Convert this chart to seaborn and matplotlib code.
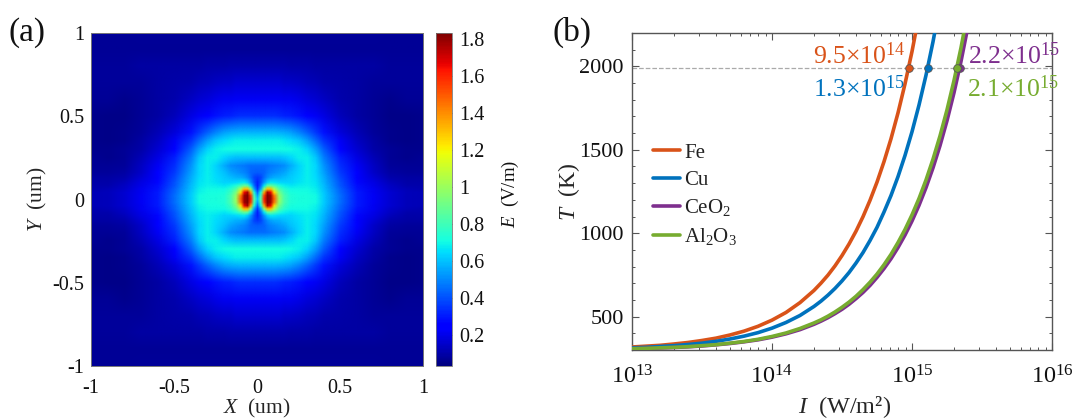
import numpy as np
import pandas as pd
import matplotlib
matplotlib.use('Agg')
import matplotlib.pyplot as plt
from matplotlib.image import NonUniformImage
from matplotlib.patches import Rectangle
from matplotlib.ticker import LogLocator, MultipleLocator, NullFormatter, FixedLocator
import seaborn as sns

# field values for one quadrant, mirrored later (rows follow pos_um in y)
# last position sits just past the axis edge so the image fills the frame
pos_um = [0, .02, .04, .06, .08, .1, .13, .16, .2, .25, .3, .35, .4, .5, .6, .7, .8, .9, 1.02]
e_row_00 = [.62, .85, 1.60, 1.83, 1.78, 1.50, 1.00, .82, .73, .72, .72, .70, .62, .45, .30, .22, .16, .13, .12]
e_row_02 = [.55, .80, 1.55, 1.83, 1.78, 1.45, .98, .82, .73, .72, .72, .70, .62, .45, .30, .22, .16, .13, .12]
e_row_04 = [.45, .70, 1.35, 1.76, 1.65, 1.25, .92, .79, .72, .71, .71, .69, .61, .44, .30, .21, .16, .13, .12]
e_row_06 = [.35, .55, .95, 1.30, 1.30, 1.05, .84, .75, .70, .70, .70, .68, .60, .43, .29, .21, .15, .12, .11]
e_row_08 = [.32, .45, .66, .85, .88, .82, .73, .69, .67, .68, .69, .67, .59, .41, .28, .20, .14, .11, .11]
e_row_10 = [.32, .40, .52, .62, .67, .66, .64, .63, .63, .66, .68, .66, .58, .40, .27, .19, .13, .10, .10]
e_row_13 = [.36, .38, .45, .51, .54, .56, .57, .59, .62, .65, .68, .65, .56, .38, .26, .17, .11, .09, .09]
e_row_16 = [.42, .43, .44, .47, .49, .51, .53, .55, .60, .64, .68, .64, .54, .36, .24, .15, .09, .08, .08]
e_row_20 = [.45, .45, .45, .46, .47, .48, .49, .51, .56, .63, .68, .64, .52, .34, .22, .14, .08, .07, .07]
e_row_25 = [.60, .60, .60, .60, .60, .60, .60, .61, .64, .68, .68, .61, .48, .31, .19, .12, .07, .06, .07]
e_row_30 = [.71, .71, .71, .71, .71, .71, .71, .71, .70, .68, .63, .54, .42, .26, .16, .10, .07, .06, .06]
e_row_35 = [.68, .68, .68, .68, .68, .68, .68, .67, .65, .61, .54, .45, .35, .22, .14, .09, .06, .05, .06]
e_row_40 = [.58, .58, .58, .58, .58, .58, .57, .56, .54, .49, .43, .36, .29, .18, .12, .08, .06, .05, .06]
e_row_50 = [.34, .34, .34, .34, .34, .34, .33, .32, .31, .29, .26, .22, .19, .13, .09, .07, .05, .05, .06]
e_row_60 = [.22, .22, .22, .22, .22, .22, .22, .21, .21, .20, .18, .16, .14, .11, .09, .07, .06, .07, .07]
e_row_70 = [.16, .16, .16, .16, .16, .16, .16, .15, .15, .14, .13, .12, .11, .10, .09, .08, .08, .08, .08]
e_row_80 = [.11, .11, .11, .11, .11, .11, .11, .11, .10, .10, .10, .09, .09, .09, .09, .09, .08, .08, .08]
e_row_90 = [.07, .07, .07, .07, .07, .07, .07, .07, .07, .07, .07, .07, .07, .07, .07, .07, .07, .07, .07]
e_row_100 = [.08, .08, .08, .08, .08, .08, .08, .08, .08, .08, .08, .08, .08, .08, .08, .08, .07, .07, .07]

# temperature curves, read along I
intensity = [1.0e13, 1.259e13, 1.585e13, 1.995e13, 2.512e13, 3.162e13, 3.981e13, 5.012e13, 6.31e13, 7.943e13,
             1.0e14, 1.259e14, 1.585e14, 1.995e14, 2.239e14, 2.512e14, 2.818e14, 3.162e14, 3.548e14, 3.981e14,
             4.467e14, 5.012e14, 5.623e14, 6.31e14, 7.079e14, 7.943e14, 8.913e14, 1.0e15, 1.122e15, 1.259e15,
             1.413e15, 1.585e15, 1.778e15, 1.995e15, 2.239e15, 2.512e15]
t_fe = [318, 323, 328, 336, 345, 357, 371, 390, 413, 442, 479, 525, 584, 657, 701, 749, 804, 866, 935, 1012,
        1099, 1197, 1306, 1429, 1566, 1721, 1895, 2089, 2307]
t_cu = [313, 316, 321, 326, 333, 341, 352, 366, 383, 404, 431, 465, 507, 561, 593, 629, 669, 714, 764, 821,
        884, 956, 1035, 1127, 1226, 1339, 1466, 1608, 1768, 1947, 2148, 2373]
t_ceo2 = [308, 310, 312, 315, 319, 324, 331, 339, 349, 361, 377, 397, 422, 454, 473, 494, 518, 544, 574, 608,
          645, 687, 735, 788, 847, 914, 989, 1073, 1167, 1273, 1392, 1525, 1674, 1842, 2030, 2241]
t_al2o3 = [308, 310, 313, 316, 320, 326, 332, 341, 351, 364, 381, 402, 429, 462, 481, 503, 528, 556, 587, 622,
           662, 706, 755, 811, 873, 944, 1022, 1110, 1208, 1319, 1444, 1583, 1739, 1915, 2112, 2333]

materials = ['Fe', 'Cu', 'CeO$_2$', 'Al$_2$O$_3$']
colors = ['#D95319', '#0072BD', '#7E2F8E', '#77AC30']
melt_i = [9.5e14, 1.3e15, 2.2e15, 2.1e15]
melt_t = 1990

W, H = 1076, 419

sns.set_theme(style='ticks')
plt.rcParams['font.family'] = ['Liberation Serif', 'DejaVu Serif']
plt.rcParams['mathtext.fontset'] = 'custom'
plt.rcParams['mathtext.rm'] = 'Liberation Serif'
plt.rcParams['mathtext.it'] = 'Liberation Serif:italic'
plt.rcParams['mathtext.default'] = 'regular'
plt.rcParams['text.color'] = '#111111'


def axes_px(fig, left, top, right, bottom):
    return fig.add_axes([left / W, 1 - bottom / H, (right - left) / W, (bottom - top) / H])


fig = plt.figure(figsize=(W / 100, H / 100), dpi=100)

# (a) field map
ax1 = axes_px(fig, 91, 33, 423, 366)
cax = axes_px(fig, 436, 33, 452, 366)

quad = np.array([e_row_00, e_row_02, e_row_04, e_row_06, e_row_08, e_row_10, e_row_13, e_row_16, e_row_20,
                 e_row_25, e_row_30, e_row_35, e_row_40, e_row_50, e_row_60, e_row_70, e_row_80, e_row_90,
                 e_row_100])
right_half = np.vstack([quad[:0:-1], quad])
field = np.hstack([right_half[:, :0:-1], right_half])
pos = np.array(pos_um)
grid = np.concatenate([-pos[:0:-1], pos])

im = NonUniformImage(ax1, interpolation='bilinear', cmap='jet', norm=plt.Normalize(0.033, 1.83),
                     extent=(-1, 1, -1, 1))
im.set_data(grid, grid, field)
ax1.add_image(im)
ax1.set_facecolor('#00009e')
ax1.set_xlim(-1, 1)
ax1.set_ylim(-1, 1)
# the image's top pixel row comes out bright, so clip it off
im.set_clip_path(Rectangle((-1, -1), 2, 1.99, transform=ax1.transData))
ax1.set_xticks([-1, -0.5, 0, 0.5, 1], ['-1', '-0.5', '0', '0.5', '1'])
ax1.set_yticks([-1, -0.5, 0, 0.5, 1], ['-1', '-0.5', '0', '0.5', '1'])
ax1.tick_params(length=0, labelsize=14.5, colors='#111111')
ax1.tick_params(axis='x', pad=9)
ax1.tick_params(axis='y', pad=5)
for s in ax1.spines.values():
    s.set_color('#777777')
    s.set_linewidth(0.7)
ax1.set_xlabel(r'$\mathit{X}$  (um)', fontsize=15.5)
ax1.set_ylabel(r'$\mathit{Y}$  (um)', fontsize=15.5)
ax1.xaxis.set_label_coords(0.5, -0.092)
ax1.yaxis.set_label_coords(-0.128, 0.5)

cbar = fig.colorbar(im, cax=cax, ticks=[0.2, 0.4, 0.6, 0.8, 1, 1.2, 1.4, 1.6, 1.8])
cbar.ax.set_yticklabels(['0.2', '0.4', '0.6', '0.8', '1', '1.2', '1.4', '1.6', '1.8'])
cbar.ax.tick_params(direction='in', length=2.5, width=0.6, color='#555555', labelsize=14.5, pad=5,
                    labelcolor='#111111')
cbar.outline.set_edgecolor('#777777')
cbar.outline.set_linewidth(0.6)
fig.text(510 / W, 1 - 194 / H, r'$\mathit{E}$  (V/m)', rotation=90, ha='center', va='center', fontsize=13.5)

# (b) temperature curves
ax2 = axes_px(fig, 632, 33, 1052, 350)
rows = []
for name, temps in zip(materials, [t_fe, t_cu, t_ceo2, t_al2o3]):
    rows.append(pd.DataFrame({'I': intensity[:len(temps)], 'T': temps, 'material': name}))
df = pd.concat(rows)

ax2.axhline(melt_t, color='#aaaaaa', lw=0.9, ls='--', zorder=1)
sns.lineplot(data=df, x='I', y='T', hue='material', hue_order=materials, palette=colors, lw=2.6, ax=ax2,
             estimator=None, sort=False, zorder=3)
ax2.set_xscale('log')
ax2.set_xlim(1e13, 1e16)
ax2.set_ylim(300, 2200)
for i_val, col in zip(melt_i, colors):
    ax2.plot([i_val], [melt_t], 'o', ms=5.5, mfc=col, mec='#555555', mew=0.6, zorder=4)

ax2.xaxis.set_major_locator(FixedLocator([1e13, 1e14, 1e15, 1e16]))
ax2.xaxis.set_minor_locator(LogLocator(base=10, subs=np.arange(2, 10), numticks=20))
ax2.xaxis.set_minor_formatter(NullFormatter())
ax2.yaxis.set_major_locator(FixedLocator([500, 1000, 1500, 2000]))
ax2.yaxis.set_minor_locator(MultipleLocator(100))
ax2.tick_params(which='major', direction='in', length=5, width=0.8, color='#555555', top=True, right=True,
                labelsize=16, labelcolor='#111111', pad=6)
ax2.tick_params(which='minor', direction='in', length=2.5, width=0.7, color='#555555', top=True, right=True)
ax2.set_xticklabels(['10$^{13}$', '10$^{14}$', '10$^{15}$', '10$^{16}$'])
ax2.tick_params(axis='x', which='major', pad=11, labelsize=17.5)
for s in ax2.spines.values():
    s.set_color('#555555')
    s.set_linewidth(1.0)
ax2.set_xlabel(r'$\mathit{I}$  (W/m²)', fontsize=17.5)
ax2.set_ylabel(r'$\mathit{T}$  (K)', fontsize=17)
ax2.xaxis.set_label_coords(0.507, -0.14)
ax2.yaxis.set_label_coords(-0.118, 0.5)

handles, labels = ax2.get_legend_handles_labels()
ax2.legend(handles, labels, loc='upper left', bbox_to_anchor=((649 - 632) / 420, 1 - (139 - 33) / 317), frameon=False,
           fontsize=15, labelspacing=0.36, handlelength=1.3, handletextpad=0.2, borderpad=0.2, borderaxespad=0,
           labelcolor='#222222')

# melting point labels
fig.text(813 / W, 1 - 64 / H, r'9.5$\times$10$^{14}$', color=colors[0], fontsize=18.5, va='baseline')
fig.text(813 / W, 1 - 97 / H, r'1.3$\times$10$^{15}$', color=colors[1], fontsize=18.5, va='baseline')
fig.text(968 / W, 1 - 64 / H, r'2.2$\times$10$^{15}$', color=colors[2], fontsize=18.5, va='baseline')
fig.text(967 / W, 1 - 97 / H, r'2.1$\times$10$^{15}$', color=colors[3], fontsize=18.5, va='baseline')

fig.text(9 / W, 1 - 41 / H, '(a)', fontsize=24, va='baseline')
fig.text(553 / W, 1 - 41 / H, '(b)', fontsize=24, va='baseline')

plt.savefig('out.png', dpi=100)
plt.close()
